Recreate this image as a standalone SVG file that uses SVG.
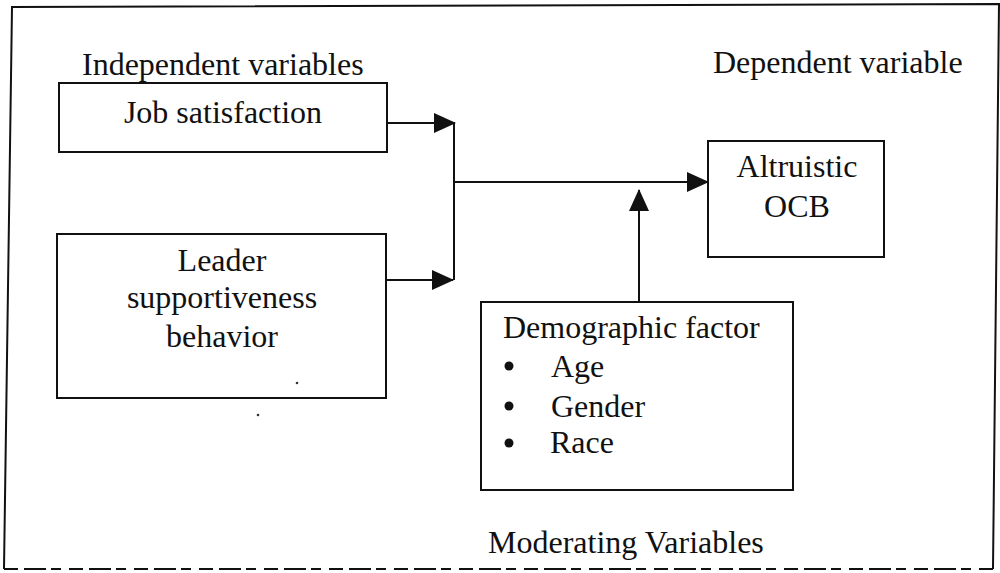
<svg xmlns="http://www.w3.org/2000/svg" width="1000" height="573" viewBox="0 0 1000 573">
<defs>
<style>
.t{font-family:'Liberation Serif',Tinos,'Times New Roman',Times,'DejaVu Serif',serif;font-size:32px;fill:#111}
.c{text-anchor:middle}
.box{fill:#fff;stroke:#111;stroke-width:2}
.ln{fill:none;stroke:#111;stroke-width:2}
</style>
<marker id="ah" markerWidth="22" markerHeight="20" refX="21" refY="10" orient="auto" markerUnits="userSpaceOnUse">
<path d="M0,0 L22,10 L0,20 Z" fill="#111"/>
</marker>
</defs>
<rect width="1000" height="573" fill="#fff"/>
<g id="frame">
<path class="ln" d="M4,569 L12,7 L999,4 L993,569"/>
<path class="ln" d="M4,569 L993,569" stroke-dasharray="14,6,22,5,10,8"/>
</g>
<g font-family="Liberation Serif, serif">
<text class="t" x="82" y="75">Independent variables</text>
<text class="t" x="713" y="73">Dependent variable</text>
<text class="t" x="488" y="553">Moderating Variables</text>
</g>
<g id="job" font-family="Liberation Serif, serif">
<rect class="box" x="59" y="83" width="328" height="69"/>
<text class="t c" x="223" y="123">Job satisfaction</text>
</g>
<g id="leader" font-family="Liberation Serif, serif">
<rect class="box" x="57" y="234" width="329" height="164"/>
<text class="t c" x="222" y="271">Leader</text>
<text class="t c" x="222" y="308">supportiveness</text>
<text class="t c" x="222" y="347">behavior</text>
</g>
<g id="ocb" font-family="Liberation Serif, serif">
<rect class="box" x="708" y="141" width="176" height="116"/>
<text class="t c" x="797" y="177">Altruistic</text>
<text class="t c" x="797" y="217">OCB</text>
</g>
<g id="demo" font-family="Liberation Serif, serif">
<rect class="box" x="481" y="302" width="312" height="188"/>
<text class="t" x="503" y="338">Demographic factor</text>
<circle cx="509" cy="366" r="4.5" fill="#111"/>
<text class="t" x="551" y="377">Age</text>
<circle cx="509" cy="406" r="4.5" fill="#111"/>
<text class="t" x="551" y="417">Gender</text>
<circle cx="509" cy="443" r="4.5" fill="#111"/>
<text class="t" x="550" y="453">Race</text>
</g>
<g id="connectors">
<line class="ln" x1="387" y1="123" x2="455" y2="123" marker-end="url(#ah)"/>
<line class="ln" x1="386" y1="280" x2="453" y2="280" marker-end="url(#ah)"/>
<line class="ln" x1="454" y1="123" x2="454" y2="280"/>
<line class="ln" x1="454" y1="182" x2="708" y2="182" marker-end="url(#ah)"/>
<line class="ln" x1="639" y1="302" x2="639" y2="190" marker-end="url(#ah)"/>
</g>
<circle cx="297" cy="383" r="1.3" fill="#333"/>
<circle cx="258" cy="415" r="1.3" fill="#333"/>
</svg>
